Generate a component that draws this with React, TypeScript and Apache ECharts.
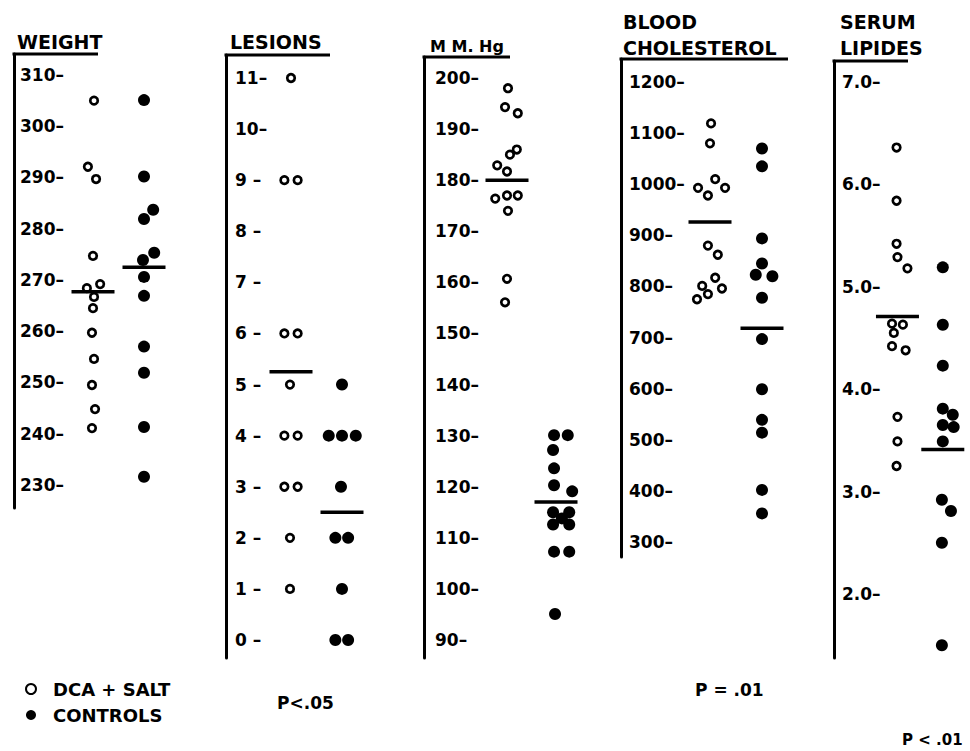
import React, { useEffect, useRef } from "react";
import * as echarts from "echarts";

// ---------------- data ----------------
// WEIGHT
const weightTicks = [230, 240, 250, 260, 270, 280, 290, 300, 310];
const weightDca = [305, 292.1, 289.7, 274.7, 268.4, 269.2, 266.7, 264.5, 259.7, 254.6, 249.5, 244.8, 241.1];
const weightDcaDodge = [0.02, -0.1, 0.06, 0, -0.12, 0.14, 0.02, 0, -0.02, 0.02, -0.02, 0.04, -0.02];
const weightCtl = [305.1, 290.2, 283.7, 281.9, 275.3, 273.9, 270.6, 266.9, 257, 251.9, 241.3, 231.6];
const weightCtlDodge = [0, 0, 0.18, 0, 0.2, -0.02, 0, 0, 0, 0, 0, 0];
const weightMeans = [267.7, 272.5];

// LESIONS
const lesionTicks = [0, 1, 2, 3, 4, 5, 6, 7, 8, 9, 10, 11];
const lesionDca = [11, 9, 9, 6, 6, 5, 4, 4, 3, 3, 2, 1];
const lesionDcaDodge = [0, -0.13, 0.13, -0.13, 0.13, -0.02, -0.13, 0.13, -0.13, 0.13, -0.02, -0.02];
const lesionCtl = [5, 4, 4, 4, 3, 2, 2, 1, 0, 0];
const lesionCtlDodge = [0, -0.26, 0, 0.27, -0.02, -0.13, 0.12, 0, -0.13, 0.12];
const lesionMeans = [5.25, 2.5];

// MM. Hg
const hgTicks = [90, 100, 110, 120, 130, 140, 150, 160, 170, 180, 190, 200];
const hgDca = [198, 194.3, 193.1, 186, 185, 182.9, 181.7, 176.4, 177, 177, 174, 160.7, 156.1];
const hgDcaDodge = [0.02, -0.04, 0.22, 0.2, 0.06, -0.2, 0, -0.24, 0, 0.22, 0.02, 0, -0.04];
const hgCtl = [130.1, 130.1, 127.2, 123.6, 120.3, 119.1, 115, 115, 113.8, 112.6, 112.6, 107.3, 107.3, 95.1];
const hgCtlDodge = [-0.04, 0.24, -0.06, -0.04, -0.04, 0.33, -0.06, 0.27, 0.12, -0.06, 0.27, -0.04, 0.27, -0.02];
const hgMeans = [180, 117];

// BLOOD CHOLESTEROL
const cholTicks = [300, 400, 500, 600, 700, 800, 900, 1000, 1100, 1200];
const cholDca = [1119, 1080, 1010, 993, 993, 978, 880, 862, 817, 801, 796, 785, 775];
const cholDcaDodge = [0.02, 0, 0.1, -0.23, 0.29, -0.04, -0.04, 0.15, 0.1, -0.15, 0.23, -0.04, -0.25];
const cholCtl = [1070, 1035, 894, 845, 823, 820, 778, 697, 599, 539, 514, 402, 356];
const cholCtlDodge = [0, 0, 0, 0, -0.12, 0.2, 0, 0, 0, 0, 0, 0, 0];
const cholMeans = [926, 718];

// SERUM LIPIDES
const lipTicks = [2, 3, 4, 5, 6, 7];
const lipDca = [6.36, 5.84, 5.42, 5.29, 5.18, 4.64, 4.63, 4.55, 4.42, 4.38, 3.73, 3.49, 3.25];
const lipDcaDodge = [-0.02, -0.02, -0.02, 0, 0.22, -0.12, 0.12, -0.08, -0.12, 0.18, 0, 0, -0.02];
const lipCtl = [5.19, 4.63, 4.23, 3.81, 3.75, 3.65, 3.63, 3.49, 2.92, 2.81, 2.5, 1.5];
const lipCtlDodge = [0, 0, 0, 0, 0.22, 0, 0.24, 0, -0.02, 0.18, -0.02, -0.02];
const lipMeans = [4.71, 3.41];

const groupNames = ["DCA + SALT", "CONTROLS"];
const pValues = ["P<.05", "P = .01", "P < .01"];

// ---------------- layout & style ----------------
const FONT = '"DejaVu Sans", Verdana, sans-serif';
const INK = "#000";
const GW = 150;

const panels = [
  {
    dca: weightDca, dcaDodge: weightDcaDodge, ctl: weightCtl, ctlDodge: weightCtlDodge, means: weightMeans,
    ticks: weightTicks, fmt: (v: number) => `${v}–`,
    axisX: 14, top: 54, bottom: 508, dcaX: 93, ctlX: 144, yMin: 225.5, yMax: 314.1, margin: 6, ulEnd: 98,
  },
  {
    dca: lesionDca, dcaDodge: lesionDcaDodge, ctl: lesionCtl, ctlDodge: lesionCtlDodge, means: lesionMeans,
    ticks: lesionTicks, fmt: (v: number) => (v >= 10 ? `${v}–` : `${v} –`),
    axisX: 226, top: 55, bottom: 658, dcaX: 291, ctlX: 342, yMin: -0.352, yMax: 11.45, margin: 9, ulEnd: 330,
  },
  {
    dca: hgDca, dcaDodge: hgDcaDodge, ctl: hgCtl, ctlDodge: hgCtlDodge, means: hgMeans,
    ticks: hgTicks, fmt: (v: number) => `${v}–`,
    axisX: 424, top: 57, bottom: 658, dcaX: 507, ctlX: 556, yMin: 86.48, yMax: 204.11, margin: 11, ulEnd: 510,
  },
  {
    dca: cholDca, dcaDodge: cholDcaDodge, ctl: cholCtl, ctlDodge: cholCtlDodge, means: cholMeans,
    ticks: cholTicks, fmt: (v: number) => `${v}–`,
    axisX: 621, top: 59, bottom: 557, dcaX: 710, ctlX: 762, yMin: 270.7, yMax: 1245, margin: 8, ulEnd: 788,
  },
  {
    dca: lipDca, dcaDodge: lipDcaDodge, ctl: lipCtl, ctlDodge: lipCtlDodge, means: lipMeans,
    ticks: lipTicks, fmt: (v: number) => `${v.toFixed(1)}–`,
    axisX: 834, top: 61, bottom: 658, dcaX: 904, ctlX: 954, yMin: 1.375, yMax: 7.205, margin: 8, ulEnd: 908,
  },
];

const titles = [
  { text: "WEIGHT", x: 17, y: 42, size: 19 },
  { text: "LESIONS", x: 230, y: 42, size: 19 },
  { text: "M M. Hg", x: 430, y: 46, size: 16 },
  { text: "BLOOD", x: 623, y: 22, size: 19 },
  { text: "CHOLESTEROL", x: 623, y: 48, size: 19 },
  { text: "SERUM", x: 840, y: 22, size: 19 },
  { text: "LIPIDES", x: 840, y: 48, size: 19 },
];

const pLabels = [
  { x: 277, y: 703, size: 17, weight: "bold" },
  { x: 695, y: 690, size: 17, weight: "bold" },
  { x: 902, y: 740, size: 15, weight: "bold" },
];

function buildOption() {
  const grid: any[] = [];
  const xAxis: any[] = [];
  const yAxis: any[] = [];
  const series: any[] = [];
  const graphic: any[] = [];

  panels.forEach((p, i) => {
    const unit = p.ctlX - p.dcaX;
    const xMin = -(p.dcaX - p.axisX) / unit;
    grid.push({ left: p.axisX, top: p.top, width: GW, height: p.bottom - p.top });
    xAxis.push({ type: "value", gridIndex: i, show: false, min: xMin, max: xMin + GW / unit });
    yAxis.push({
      type: "value",
      gridIndex: i,
      min: p.yMin,
      max: p.yMax,
      axisLine: { show: true, onZero: false, lineStyle: { color: INK, width: 3 } },
      axisTick: { show: false },
      splitLine: { show: false },
      axisLabel: {
        inside: true,
        margin: p.margin,
        customValues: p.ticks,
        formatter: (v: number) => p.fmt(v),
        color: INK,
        fontFamily: FONT,
        fontSize: 17,
        fontWeight: "bold",
      },
    });
    series.push({
      type: "scatter",
      name: groupNames[0],
      xAxisIndex: i,
      yAxisIndex: i,
      clip: false,
      symbol: "circle",
      symbolSize: 7.5,
      itemStyle: { color: "#fff", borderColor: INK, borderWidth: 2.7, opacity: 1 },
      emphasis: { disabled: true },
      data: p.dca.map((v, k) => [p.dcaDodge[k], v]),
      z: 3,
    });
    series.push({
      type: "scatter",
      name: groupNames[1],
      xAxisIndex: i,
      yAxisIndex: i,
      clip: false,
      symbol: "circle",
      symbolSize: 12,
      itemStyle: { color: INK, opacity: 1 },
      emphasis: { disabled: true },
      data: p.ctl.map((v, k) => [1 + p.ctlDodge[k], v]),
      z: 3,
    });
    series.push({
      type: "scatter",
      name: "mean",
      xAxisIndex: i,
      yAxisIndex: i,
      clip: false,
      silent: true,
      symbol: "rect",
      symbolSize: [43, 3.5],
      itemStyle: { color: INK, opacity: 1 },
      emphasis: { disabled: true },
      data: p.means.map((v, k) => [k, v]),
      z: 4,
    });
    graphic.push({
      type: "line",
      shape: { x1: p.axisX - 1.5, y1: p.top, x2: p.ulEnd, y2: p.top },
      style: { stroke: INK, lineWidth: 3 },
    });
  });

  titles.forEach((t) => {
    graphic.push({
      type: "text",
      x: t.x,
      y: t.y,
      style: {
        text: t.text,
        fill: INK,
        font: `bold ${t.size}px ${FONT}`,
        verticalAlign: "middle",
        align: "left",
      },
    });
  });

  pLabels.forEach((t, k) => {
    graphic.push({
      type: "text",
      x: t.x,
      y: t.y,
      style: {
        text: pValues[k],
        fill: INK,
        font: `${t.weight} ${t.size}px ${FONT}`,
        verticalAlign: "middle",
        align: "left",
      },
    });
  });

  return {
    animation: false,
    backgroundColor: "#fff",
    grid,
    xAxis,
    yAxis,
    series,
    graphic,
    legend: {
      data: groupNames,
      orient: "vertical",
      left: 20,
      top: 675,
      itemWidth: 10,
      itemHeight: 10,
      itemGap: 8,
      icon: "circle",
      selectedMode: false,
      textStyle: {
        fontFamily: FONT,
        fontSize: 18,
        fontWeight: "bold",
        color: INK,
        padding: [0, 0, 0, 12],
      },
    },
  };
}

export default function App() {
  const ref = useRef<HTMLDivElement>(null);
  useEffect(() => {
    if (!ref.current) return;
    const chart = echarts.init(ref.current, undefined, { renderer: "svg" });
    chart.setOption(buildOption() as any);
    return () => chart.dispose();
  }, []);
  return (
    <div
      ref={ref}
      style={{ position: "fixed", left: 0, top: 0, width: 970, height: 751, background: "#fff" }}
    />
  );
}
